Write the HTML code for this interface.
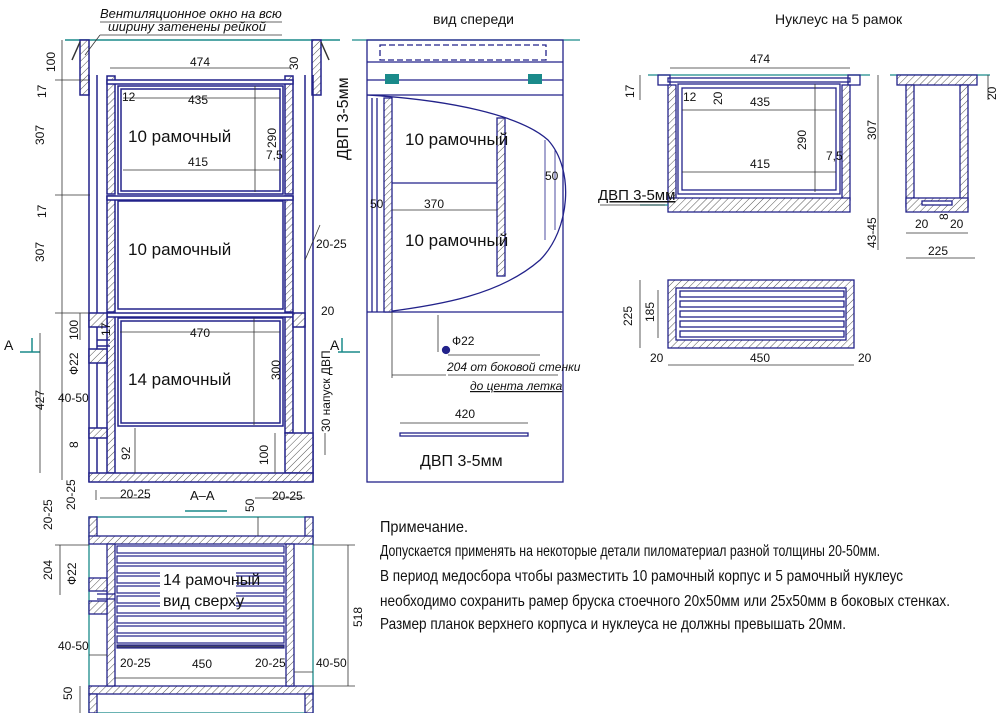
<!DOCTYPE html>
<html><head><meta charset="utf-8"><style>
html,body{margin:0;padding:0;background:#fff;}
svg{display:block;}
text{font-family:"Liberation Sans Narrow","Liberation Sans",sans-serif;fill:#111;}
</style></head><body>
<svg width="1000" height="713" viewBox="0 0 1000 713" xmlns="http://www.w3.org/2000/svg">
<defs>
<pattern id="h" width="5" height="5" patternUnits="userSpaceOnUse" patternTransform="rotate(45)">
<rect width="5" height="5" fill="#fff"/><line x1="0" y1="0" x2="0" y2="5" stroke="#555" stroke-width="1"/>
</pattern>
</defs>
<g fill="none" stroke="#22228a" stroke-width="1.5">
<line x1="65" y1="40" x2="340" y2="40" stroke="#1a8a8a"/>
<rect x="80" y="40" width="9" height="55" fill="url(#h)"/>
<rect x="312" y="40" width="9" height="55" fill="url(#h)"/>
<path d="M80 42 L72 60 M321 42 L329 60" stroke="#333"/>
<line x1="89" y1="75" x2="89" y2="482"/>
<line x1="97" y1="75" x2="97" y2="482"/>
<line x1="305" y1="75" x2="305" y2="482"/>
<line x1="313" y1="75" x2="313" y2="482"/>
<rect x="107" y="76" width="8" height="118" fill="url(#h)"/>
<rect x="285" y="76" width="8" height="118" fill="url(#h)"/>
<rect x="107" y="80" width="186" height="4" fill="#fff"/>
<rect x="118" y="86" width="165" height="108"/>
<rect x="121" y="89" width="159" height="102"/>
<rect x="107" y="196" width="8" height="116" fill="url(#h)"/>
<rect x="285" y="196" width="8" height="116" fill="url(#h)"/>
<rect x="107" y="196" width="186" height="4" fill="#fff"/>
<rect x="118" y="201" width="165" height="108"/>
<rect x="107" y="313" width="8" height="160" fill="url(#h)"/>
<rect x="285" y="313" width="8" height="120" fill="url(#h)"/>
<rect x="107" y="313" width="186" height="4" fill="#fff"/>
<rect x="118" y="318" width="165" height="108"/>
<rect x="121" y="321" width="159" height="102"/>
<rect x="89" y="313" width="18" height="14" fill="url(#h)"/>
<rect x="89" y="349" width="18" height="14" fill="url(#h)"/>
<rect x="89" y="428" width="18" height="10" fill="url(#h)"/>
<rect x="293" y="313" width="12" height="14" fill="url(#h)"/>
<rect x="285" y="433" width="28" height="40" fill="url(#h)"/>
<rect x="89" y="473" width="224" height="9" fill="url(#h)"/>
<line x1="97" y1="340" x2="110" y2="340"/>
<line x1="97" y1="346" x2="110" y2="346"/>
<line x1="20" y1="352" x2="40" y2="352" stroke="#1a8a8a"/>
<line x1="32" y1="338" x2="32" y2="352" stroke="#1a8a8a"/>
<line x1="338" y1="352" x2="360" y2="352" stroke="#1a8a8a"/>
<line x1="342" y1="338" x2="342" y2="352" stroke="#1a8a8a"/>
</g>
<g stroke="#333" stroke-width="0.8" fill="none">
<line x1="62" y1="40" x2="62" y2="480"/><line x1="55" y1="80" x2="90" y2="80"/><line x1="55" y1="195" x2="90" y2="195"/>
<line x1="55" y1="313" x2="90" y2="313"/><line x1="40" y1="333" x2="40" y2="473"/><line x1="80" y1="313" x2="80" y2="340"/>
<line x1="110" y1="68" x2="290" y2="68"/><line x1="123" y1="98" x2="280" y2="98"/><line x1="123" y1="170" x2="280" y2="170"/>
<line x1="255" y1="86" x2="255" y2="192"/><line x1="120" y1="332" x2="280" y2="332"/><line x1="254" y1="318" x2="254" y2="425"/>
<line x1="135" y1="428" x2="135" y2="473"/><line x1="275" y1="433" x2="275" y2="473"/><line x1="325" y1="433" x2="325" y2="455"/>
<line x1="100" y1="22" x2="282" y2="22"/><line x1="100" y1="35" x2="282" y2="35"/><line x1="100" y1="35" x2="85" y2="55"/>
<line x1="320" y1="225" x2="305" y2="260"/><line x1="96" y1="490" x2="96" y2="500"/><line x1="100" y1="498" x2="150" y2="498"/>
<line x1="255" y1="498" x2="305" y2="498"/>
</g>
<g font-size="12">
<text x="100" y="18" font-style="italic" font-size="13">Вентиляционное окно на всю</text>
<text x="108" y="31" font-style="italic" font-size="13">ширину затенены рейкой</text>
<text x="190" y="66">474</text><text x="122" y="101">12</text><text x="188" y="104">435</text>
<text x="188" y="166">415</text><text x="266" y="159">7,5</text>
<text x="190" y="337">470</text><text x="321" y="315">20</text><text x="316" y="248">20-25</text>
<text x="58" y="402">40-50</text><text x="120" y="498">20-25</text><text x="272" y="500">20-25</text>
<text x="4" y="350" font-size="14">А</text><text x="330" y="350" font-size="14">А</text>
<text x="190" y="500" font-size="13">А–А</text>
<g transform="rotate(-90)">
<text x="-72" y="55">100</text><text x="-98" y="46">17</text><text x="-145" y="44">307</text>
<text x="-218" y="46">17</text><text x="-262" y="44">307</text><text x="-340" y="78">100</text>
<text x="-336" y="110">17</text><text x="-375" y="78">Ф22</text><text x="-410" y="44">427</text>
<text x="-448" y="78">8</text><text x="-460" y="130">92</text><text x="-465" y="268">100</text>
<text x="-148" y="276">290</text><text x="-380" y="280">300</text><text x="-432" y="330">30 напуск ДВП</text>
<text x="-160" y="348" font-size="16">ДВП 3-5мм</text><text x="-70" y="298">30</text>
<text x="-510" y="75">20-25</text>
</g>
</g>
<g font-size="17">
<text x="128" y="142">10 рамочный</text><text x="128" y="255">10 рамочный</text><text x="128" y="385">14 рамочный</text>
</g>

<g fill="none" stroke="#22228a" stroke-width="1.3">
<line x1="352" y1="40" x2="580" y2="40" stroke="#1a8a8a"/>
<rect x="367" y="40" width="196" height="442"/>
<line x1="367" y1="62" x2="563" y2="62"/><line x1="367" y1="80" x2="563" y2="80"/><line x1="367" y1="95" x2="563" y2="95"/>
<line x1="367" y1="312" x2="563" y2="312"/>
<rect x="380" y="45" width="166" height="15" stroke-dasharray="6,3"/>
<path d="M367 95 C450 100 520 115 548 140 C575 170 570 230 540 260 C500 295 440 305 385 312"/>
<rect x="384" y="98" width="8" height="214" fill="url(#h)"/>
<rect x="497" y="118" width="8" height="158" fill="url(#h)"/>
<line x1="372" y1="98" x2="372" y2="312"/><line x1="377" y1="98" x2="377" y2="312"/>
<line x1="392" y1="183" x2="497" y2="183"/>
<circle cx="446" cy="350" r="3.5" fill="#22228a"/>
<rect x="400" y="433" width="128" height="3"/>
<path d="M545 140 L545 240 M555 150 L555 230" stroke-width="0.8"/>
</g>
<rect x="385" y="74" width="14" height="10" fill="#1a8a8a"/><rect x="528" y="74" width="14" height="10" fill="#1a8a8a"/>
<g stroke="#333" stroke-width="0.8" fill="none">
<line x1="438" y1="315" x2="438" y2="352"/><line x1="392" y1="312" x2="392" y2="378"/><line x1="392" y1="375" x2="446" y2="375"/>
<line x1="448" y1="355" x2="540" y2="355"/><line x1="448" y1="375" x2="558" y2="375"/><line x1="400" y1="423" x2="528" y2="423"/>
<line x1="392" y1="210" x2="497" y2="210"/>
</g>
<g font-size="14">
<text x="433" y="24">вид спереди</text><text x="775" y="24">Нуклеус на 5 рамок</text>
<text x="405" y="145" font-size="17">10 рамочный</text><text x="405" y="246" font-size="17">10 рамочный</text>
<text x="424" y="208" font-size="12">370</text><text x="370" y="208" font-size="12">50</text><text x="545" y="180" font-size="12">50</text>
<text x="452" y="345" font-size="12">Ф22</text><text x="447" y="371" font-size="12" font-style="italic">204 от боковой стенки</text>
<text x="470" y="390" font-size="12" font-style="italic" text-decoration="underline">до цента летка</text>
<text x="455" y="418" font-size="12">420</text><text x="420" y="466" font-size="16">ДВП 3-5мм</text>
</g>

<g fill="none" stroke="#22228a" stroke-width="1.3">
<line x1="648" y1="75" x2="870" y2="75" stroke="#1a8a8a"/>
<rect x="658" y="75" width="12" height="10"/><rect x="848" y="75" width="12" height="10"/>
<rect x="668" y="78" width="182" height="4"/>
<rect x="668" y="85" width="8" height="115" fill="url(#h)"/><rect x="842" y="85" width="8" height="115" fill="url(#h)"/>
<rect x="678" y="84" width="162" height="110"/><rect x="682" y="88" width="154" height="102"/>
<rect x="668" y="198" width="182" height="14" fill="url(#h)"/>
<line x1="640" y1="205" x2="668" y2="205" stroke="#1a8a8a"/>
<line x1="890" y1="75" x2="990" y2="75" stroke="#1a8a8a"/>
<rect x="897" y="75" width="80" height="10" fill="url(#h)"/>
<rect x="906" y="85" width="8" height="122" fill="url(#h)"/><rect x="960" y="85" width="8" height="122" fill="url(#h)"/>
<rect x="906" y="198" width="62" height="14" fill="url(#h)"/>
<rect x="922" y="201" width="30" height="4" fill="#fff"/>
<rect x="668" y="280" width="186" height="68" fill="url(#h)"/>
<rect x="676" y="288" width="170" height="52" fill="#fff"/>
<rect x="680" y="291" width="164" height="6"/><rect x="680" y="301" width="164" height="6"/><rect x="680" y="311" width="164" height="6"/>
<rect x="680" y="321" width="164" height="6"/><rect x="680" y="331" width="164" height="6"/>
</g>
<g stroke="#333" stroke-width="0.8" fill="none">
<line x1="670" y1="68" x2="850" y2="68"/><line x1="682" y1="110" x2="836" y2="110"/><line x1="682" y1="172" x2="836" y2="172"/>
<line x1="815" y1="84" x2="815" y2="192"/><line x1="878" y1="75" x2="878" y2="212"/><line x1="878" y1="212" x2="878" y2="250"/>
<line x1="906" y1="233" x2="968" y2="233"/><line x1="906" y1="258" x2="975" y2="258"/><line x1="640" y1="75" x2="640" y2="100"/>
<line x1="640" y1="280" x2="640" y2="348"/><line x1="658" y1="290" x2="658" y2="338"/><line x1="668" y1="365" x2="854" y2="365"/>
<line x1="988" y1="75" x2="988" y2="100"/><line x1="600" y1="205" x2="665" y2="205"/>
</g>
<g font-size="12">
<text x="750" y="63">474</text><text x="683" y="101">12</text><text x="750" y="106">435</text><text x="750" y="168">415</text>
<text x="826" y="160">7,5</text><text x="598" y="200" font-size="15" text-decoration="underline">ДВП 3-5мм</text>
<text x="915" y="228">20</text><text x="950" y="228">20</text><text x="928" y="255">225</text>
<text x="650" y="362">20</text><text x="750" y="362">450</text><text x="858" y="362">20</text>
<g transform="rotate(-90)">
<text x="-98" y="634">17</text><text x="-105" y="722">20</text><text x="-150" y="806">290</text><text x="-140" y="876">307</text>
<text x="-248" y="876">43-45</text><text x="-100" y="996">20</text><text x="-326" y="632">225</text><text x="-322" y="654">185</text>
<text x="-220" y="948">8</text>
</g>
</g>

<g fill="none" stroke="#22228a" stroke-width="1.3">
<rect x="89" y="517" width="224" height="196" stroke="#1a8a8a"/>
<rect x="89" y="517" width="8" height="20" fill="url(#h)"/><rect x="305" y="517" width="8" height="20" fill="url(#h)"/>
<rect x="89" y="536" width="224" height="8" fill="url(#h)"/>
<rect x="89" y="686" width="224" height="8" fill="url(#h)"/>
<rect x="89" y="694" width="8" height="19" fill="url(#h)"/><rect x="305" y="694" width="8" height="19" fill="url(#h)"/>
<rect x="107" y="544" width="8" height="142" fill="url(#h)"/><rect x="286" y="544" width="8" height="142" fill="url(#h)"/>
<rect x="89" y="578" width="18" height="13" fill="url(#h)"/><rect x="89" y="601" width="18" height="13" fill="url(#h)"/>
<line x1="97" y1="594" x2="115" y2="594"/><line x1="97" y1="599" x2="115" y2="599"/>
<g stroke-width="1.2">
<rect x="117" y="546" width="167" height="7"/><rect x="117" y="556" width="167" height="7"/><rect x="117" y="566" width="167" height="7"/>
<rect x="117" y="576" width="167" height="7"/><rect x="117" y="586" width="167" height="7"/><rect x="117" y="596" width="167" height="7"/>
<rect x="117" y="606" width="167" height="7"/><rect x="117" y="616" width="167" height="7"/><rect x="117" y="626" width="167" height="7"/>
<rect x="117" y="636" width="167" height="7"/><rect x="117" y="645" width="167" height="3" fill="#446"/>
</g>
</g>
<line x1="185" y1="511" x2="227" y2="511" stroke="#1a8a8a" stroke-width="1.5"/>
<rect x="160" y="568" width="76" height="42" fill="#fff"/>
<g stroke="#333" stroke-width="0.8" fill="none">
<line x1="60" y1="545" x2="60" y2="595"/><line x1="55" y1="545" x2="89" y2="545"/><line x1="348" y1="545" x2="348" y2="686"/>
<line x1="313" y1="545" x2="355" y2="545"/><line x1="313" y1="686" x2="355" y2="686"/><line x1="115" y1="678" x2="286" y2="678"/>
<line x1="89" y1="655" x2="107" y2="655"/><line x1="294" y1="672" x2="313" y2="672"/><line x1="80" y1="686" x2="80" y2="713"/>
<line x1="258" y1="517" x2="258" y2="536"/>
</g>
<g font-size="12">
<text x="58" y="650">40-50</text><text x="120" y="667">20-25</text><text x="192" y="668">450</text><text x="255" y="667">20-25</text>
<text x="316" y="667">40-50</text>
<g transform="rotate(-90)">
<text x="-530" y="52">20-25</text><text x="-580" y="52">204</text><text x="-585" y="76">Ф22</text><text x="-627" y="362">518</text>
<text x="-700" y="72">50</text><text x="-512" y="254">50</text>
</g>
<text x="163" y="585" font-size="16">14 рамочный</text><text x="163" y="606" font-size="16">вид сверху</text>
</g>

<g font-size="16">
<text x="380" y="532" textLength="88" lengthAdjust="spacingAndGlyphs">Примечание.</text>
<text x="380" y="556" textLength="500" lengthAdjust="spacingAndGlyphs">Допускается применять на некоторые детали пиломатериал разной толщины 20-50мм.</text>
<text x="380" y="581" textLength="523" lengthAdjust="spacingAndGlyphs">В период медосбора чтобы разместить 10 рамочный корпус и 5 рамочный нуклеус</text>
<text x="380" y="606" textLength="570" lengthAdjust="spacingAndGlyphs">необходимо сохранить рамер бруска стоечного 20х50мм или 25х50мм в боковых стенках.</text>
<text x="380" y="629" textLength="466" lengthAdjust="spacingAndGlyphs">Размер планок верхнего корпуса и нуклеуса не должны превышать 20мм.</text>
</g>
</svg>
</body></html>
